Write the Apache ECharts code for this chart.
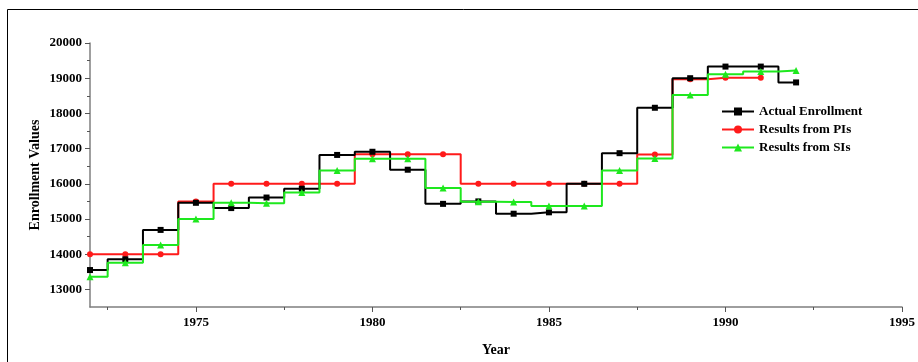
<!DOCTYPE html>
<html>
<head>
<meta charset="utf-8">
<script src="https://cdn.jsdelivr.net/npm/echarts@6/dist/echarts.min.js"></script>
<style>
html,body{margin:0;padding:0;background:#fff;}
#c{width:918px;height:362px;}
</style>
</head>
<body>
<div id="c"></div>
<script>
const years = [1972,1973,1974,1975,1976,1977,1978,1979,1980,1981,1982,1983,1984,1985,1986,1987,1988,1989,1990,1991,1992];
const actualEnrollment = [13550,13855,14690,15460,15310,15610,15860,16820,16910,16400,15430,15500,15150,15190,16000,16870,18160,19000,19330,19330,18880];
const resultsPIs = [14000,14000,14000,15500,16000,16000,16000,16000,16840,16840,16840,16000,16000,16000,16000,16000,16830,18970,19010,19010];
const resultsSIs = [13360,13760,14260,15000,15460,15450,15750,16380,16710,16710,15880,15490,15480,15370,15370,16380,16720,18520,19110,19190,19220];
const seriesNames = ['Actual Enrollment','Results from PIs','Results from SIs'];
const xMajorTicks = [1975,1980,1985,1990,1995];
const xMinorTicks = [1972.5,1977.5,1982.5,1987.5,1992.5];
const yMajorTicks = [13000,14000,15000,16000,17000,18000,19000,20000];
const yMinorTicks = [13500,14500,15500,16500,17500,18500,19500];

const FONT = '"Liberation Serif","Times New Roman",serif';
function pairs(vals){ return vals.map((v,i)=>[years[i], v]); }
const plain = v => String(v);

const chart = echarts.init(document.getElementById('c'), null, {renderer:'canvas'});
const axisLineStyle = {color:'#7f7f7f', width:1.5};
chart.setOption({
  animation:false,
  backgroundColor:'#fff',
  graphic:[{type:'rect', shape:{x:7.5,y:9.5,width:1000,height:1000}, style:{fill:'none', stroke:'#000', lineWidth:1}, silent:true}],
  grid:{left:90, right:15, top:43, bottom:55},
  legend:{
    orient:'vertical', left:716, top:100, itemWidth:32, itemHeight:10, itemGap:5,
    data:seriesNames,
    textStyle:{fontFamily:FONT, fontWeight:'bold', fontSize:13, color:'#000'}
  },
  xAxis:[{
    type:'value', min:1972, max:1995,
    name:'Year', nameLocation:'middle', nameGap:36,
    nameTextStyle:{fontFamily:FONT, fontWeight:'bold', fontSize:14, color:'#000'},
    axisLine:{show:true, onZero:false, lineStyle:axisLineStyle},
    axisTick:{show:true, customValues:xMajorTicks, length:5, lineStyle:{color:'#555'}},
    axisLabel:{customValues:xMajorTicks, formatter:plain, fontFamily:FONT, fontWeight:'bold', fontSize:13, color:'#000', margin:9},
    splitLine:{show:false}
  },{
    type:'value', min:1972, max:1995, position:'bottom',
    axisLine:{show:false, onZero:false},
    axisTick:{show:true, customValues:xMinorTicks, length:3, lineStyle:{color:'#555'}},
    axisLabel:{show:false},
    splitLine:{show:false}
  }],
  yAxis:[{
    type:'value', min:12500, max:20000,
    name:'Enrollment Values', nameLocation:'middle', nameGap:48, nameMoveOverlap:false,
    nameTextStyle:{fontFamily:FONT, fontWeight:'bold', fontSize:14, color:'#000'},
    axisLine:{show:true, onZero:false, lineStyle:axisLineStyle},
    axisTick:{show:true, customValues:yMajorTicks, length:5, lineStyle:{color:'#555'}},
    axisLabel:{customValues:yMajorTicks, formatter:plain, fontFamily:FONT, fontWeight:'bold', fontSize:13, color:'#000', margin:8},
    splitLine:{show:false}
  },{
    type:'value', min:12500, max:20000, position:'left', offset:0,
    axisLine:{show:false, onZero:false},
    axisTick:{show:true, customValues:yMinorTicks, length:3, lineStyle:{color:'#555'}},
    axisLabel:{show:false},
    splitLine:{show:false}
  }],
  series:[
    {name:seriesNames[0], type:'line', step:'middle', data:pairs(actualEnrollment),
     symbol:'rect', symbolSize:6, color:'#000', lineStyle:{width:2, color:'#000'}, itemStyle:{color:'#000'}, z:3},
    {name:seriesNames[1], type:'line', step:'middle', data:pairs(resultsPIs),
     symbol:'circle', symbolSize:6, color:'#ff1a1a', lineStyle:{width:2, color:'#ff1a1a'}, itemStyle:{color:'#ff1a1a'}, z:2},
    {name:seriesNames[2], type:'line', step:'middle', data:pairs(resultsSIs),
     symbol:'triangle', symbolSize:7, color:'#1ee81e', lineStyle:{width:2, color:'#1ee81e'}, itemStyle:{color:'#1ee81e'}, z:4}
  ]
});
</script>
</body>
</html>
